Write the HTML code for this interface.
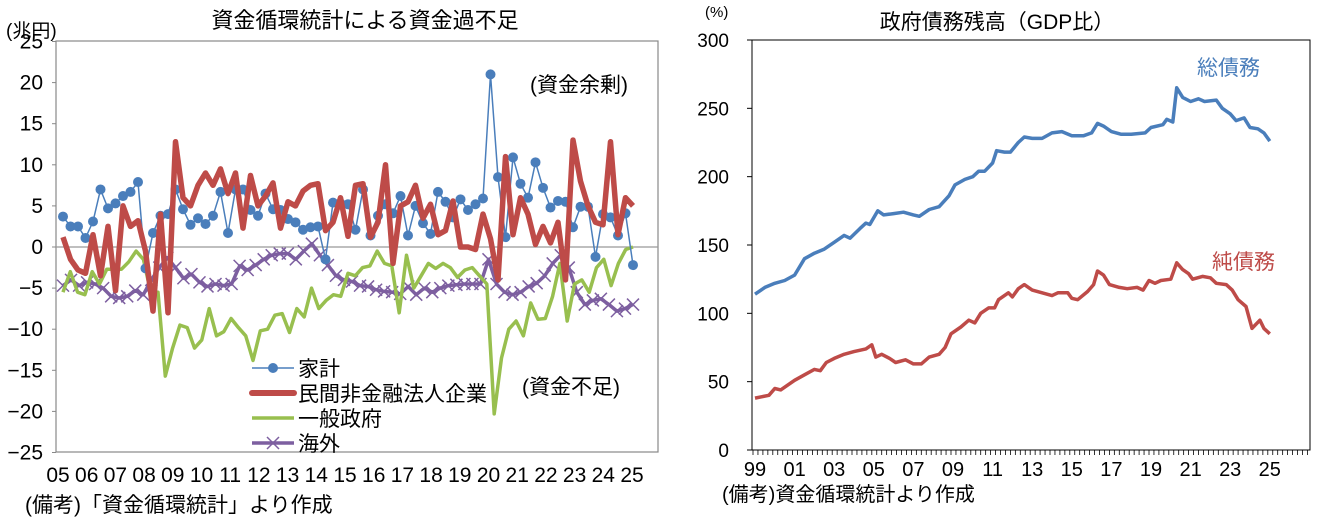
<!DOCTYPE html>
<html><head><meta charset="utf-8"><style>
html,body{margin:0;padding:0;background:#fff;}
svg{display:block;}
text{font-family:"Liberation Sans Narrow","Liberation Sans","Noto Sans CJK JP",sans-serif;fill:#000;}
.j{font-family:"Liberation Sans","Noto Sans CJK JP",sans-serif;}
</style></head><body>
<svg id="s" width="1321" height="523" viewBox="0 0 1321 523" xmlns="http://www.w3.org/2000/svg">
<rect width="1321" height="523" fill="#fff"/>
<!-- left chart -->
<text class="j" x="365" y="28" font-size="22" text-anchor="middle">資金循環統計による資金過不足</text>
<text class="j" x="6" y="37" font-size="19">(兆円)</text>
<rect x="56" y="41" width="602" height="411" fill="none" stroke="#888" stroke-width="1.2"/>
<line x1="56" y1="247" x2="658" y2="247" stroke="#999" stroke-width="1.2"/>
<g id="ly" font-size="21" text-anchor="end"></g>
<g id="lx" font-size="21" text-anchor="middle"></g>
<g id="lseries"></g>
<text class="j" x="530" y="92" font-size="21">(資金余剰)</text>
<text class="j" x="522" y="394" font-size="21">(資金不足)</text>
<g class="j">
<line x1="252" y1="368" x2="294" y2="368" stroke="#4a7ebb" stroke-width="1.5"/><circle cx="273" cy="368" r="5" fill="#4a7ebb"/>
<text class="j" x="298" y="376" font-size="21">家計</text>
<line x1="252" y1="393" x2="294" y2="393" stroke="#be4b48" stroke-width="6" stroke-linecap="round"/>
<text class="j" x="298" y="401" font-size="21">民間非金融法人企業</text>
<line x1="252" y1="418" x2="294" y2="418" stroke="#98bf4f" stroke-width="3.5"/>
<text class="j" x="298" y="426" font-size="21">一般政府</text>
<line x1="252" y1="443" x2="294" y2="443" stroke="#7d5fa0" stroke-width="3.5"/>
<path d="M267,437 l12,12 M279,437 l-12,12" stroke="#7d5fa0" stroke-width="1.5"/>
<text class="j" x="298" y="451" font-size="21">海外</text>
</g>
<text class="j" x="25" y="512" font-size="21">(備考)「資金循環統計」より作成</text>
<!-- right chart -->
<text class="j" x="997" y="29" font-size="21" text-anchor="middle">政府債務残高（GDP比）</text>
<text x="705" y="17" font-size="15">(%)</text>
<rect x="752" y="40" width="558" height="410" fill="none" stroke="#000" stroke-width="1"/>
<g id="ry" font-size="19" text-anchor="end"></g>
<g id="rx" font-size="20" text-anchor="middle"></g>
<g id="rt"></g>
<g id="rseries"></g>
<text class="j" x="1197" y="75" font-size="21" style="fill:#4a7ebb">総債務</text>
<text class="j" x="1212" y="269" font-size="21" style="fill:#be4b48">純債務</text>
<text class="j" x="722" y="501" font-size="20">(備考)資金循環統計より作成</text>
</svg>
<script>
var NS="http://www.w3.org/2000/svg";
function el(p,t,a,txt){var e=document.createElementNS(NS,t);for(var k in a)e.setAttribute(k,a[k]);if(txt!=null)e.textContent=txt;document.getElementById(p).appendChild(e);return e;}
function ly(v){return 247-v*8.22;}
for(var v=25;v>=-25;v-=5){el("ly","text",{x:43,y:ly(v)+7},(v<0?"−":"")+Math.abs(v));el("ly","line",{x1:52,x2:56,y1:ly(v),y2:ly(v),stroke:"#888"});}
for(var i=0;i<=20;i++){var yy=(5+i)%100;el("lx","text",{x:58+i*28.7,y:482},(yy<10?"0":"")+yy);}
var hh=[3.7,2.5,2.5,1.1,3.1,7.0,4.7,5.3,6.2,6.7,7.9,-2.6,1.7,3.8,4.0,7.0,4.6,2.7,3.5,2.8,3.8,6.7,1.7,7.0,7.0,4.5,3.8,6.5,4.6,4.5,3.4,3.0,2.1,2.4,2.5,-1.5,5.4,5.3,5.2,2.1,7.0,1.4,3.8,5.2,4.1,6.2,1.4,5.0,2.9,1.6,6.7,5.5,3.6,5.8,4.5,5.2,5.9,21.0,8.5,1.2,10.9,7.7,6.0,10.3,7.2,4.8,5.6,5.5,2.4,4.9,4.9,-1.2,4.0,3.6,1.4,4.1,-2.2];
var rd=[1.2,-1.5,-2.8,-3.2,1.5,-3.5,2.5,-5.3,5,2.5,3.2,-0.5,-7.8,4,-8,12.8,6,5,7.5,9,7.5,9.5,6.5,9,2.3,8.7,5,6.2,7.8,2.3,5.5,5,6.8,7.5,7.7,2,3,6,1.3,7.5,7.7,1.2,3,10,-2,5,5.5,7.5,3.5,5.2,1.5,2,5.6,0,0,-0.3,4,1,-4,11,1.5,6,4,0.3,2.5,0.5,3,-4,13,8,5,3,2.7,12.8,1.5,6,5];
var gr=[-5.5,-3,-5.5,-5.8,-3,-4.5,-2.7,-2.7,-2.7,-1.8,-0.5,-1.5,-5.5,-5.5,-15.7,-12.3,-9.5,-9.8,-12.3,-11.3,-7.5,-10.8,-10.3,-8.7,-9.8,-10.8,-13.8,-10.2,-10,-8.3,-8.1,-10.4,-7.5,-8.5,-5,-7.5,-6.5,-5.8,-6,-3.2,-3.5,-2.5,-2.3,-0.5,-2,-2.3,-8,-1,-5,-3.5,-2,-2.6,-2,-2.5,-3.7,-2.8,-2.5,-3.5,-4.5,-20.3,-13.5,-10,-9,-10.8,-6.8,-8.8,-8.7,-6,-2,-9,-4.5,-4,-5.5,-2.5,-1.5,-4.7,-2,-0.3,0];
var pu=[-4.7,-4,-4.7,-4.3,-4.5,-5,-6,-6.2,-6,-5.3,-5.8,-4,-2.5,-1.3,-2.5,-3.8,-3.3,-4.3,-4.8,-4.5,-4.7,-4.5,-2.3,-2.8,-2.2,-1.5,-1,-0.8,-0.8,-1.5,-0.5,0.4,-1,-2.2,-3.5,-4,-4.2,-4.7,-4.8,-5.2,-5.4,-5.5,-5.7,-4.8,-5.8,-5,-5.5,-5,-4.7,-4.6,-4.5,-4.5,-4.5,-1.5,-4.5,-5.5,-5.8,-5.5,-4.8,-4.4,-3.5,-2,-1,-2.5,-5.5,-7,-6.5,-6.3,-7,-7.8,-7.5,-7];
function pts(a){var r=[];for(var i=0;i<a.length;i++)r.push([63+i*(570/(a.length-1)),ly(a[i])]);return r;}
function path(p){return "M"+p.map(function(q){return q[0].toFixed(1)+","+q[1].toFixed(1)}).join(" L");}
var P=pts(pu);el("lseries","path",{d:path(P),fill:"none",stroke:"#7d5fa0","stroke-width":3.5,"stroke-linejoin":"round"});
P.forEach(function(q){el("lseries","path",{d:"M"+(q[0]-6)+","+(q[1]-6)+" l12,12 M"+(q[0]+6)+","+(q[1]-6)+" l-12,12",stroke:"#7d5fa0","stroke-width":1.5});});
el("lseries","path",{d:path(pts(gr)),fill:"none",stroke:"#98bf4f","stroke-width":3.5,"stroke-linejoin":"round"});
var H=pts(hh);el("lseries","path",{d:path(H),fill:"none",stroke:"#4a7ebb","stroke-width":1.5});
H.forEach(function(q){el("lseries","circle",{cx:q[0],cy:q[1],r:5,fill:"#4a7ebb"});});
el("lseries","path",{d:path(pts(rd)),fill:"none",stroke:"#be4b48","stroke-width":5.5,"stroke-linejoin":"round"});
function ry(v){return 450-v*1.3667;}
function rxf(y){return 755+(y-1999)*19.8;}
for(var v=0;v<=300;v+=50){el("ry","text",{x:729,y:ry(v)+7},v);el("ry","line",{x1:747,x2:752,y1:ry(v),y2:ry(v),stroke:"#000"});}
for(var y=1999;y<=2025;y+=2){var yy=y%100;el("rx","text",{x:rxf(y),y:476},(yy<10?"0":"")+yy);}
for(var x=753;x<1310;x+=4.95)el("rt","line",{x1:x,x2:x,y1:450,y2:455,stroke:"#000","stroke-width":0.8});
var tot=[[1999,114],[1999.5,119],[2000,122],[2000.5,124],[2001,128],[2001.5,140],[2002,144],[2002.5,147],[2003,152],[2003.5,157],[2003.8,155],[2004.3,162],[2004.6,166],[2004.8,165],[2005.2,175],[2005.5,172],[2006,173],[2006.5,174],[2007,172],[2007.3,171],[2007.8,176],[2008.3,178],[2008.8,186],[2009.1,194],[2009.6,198],[2010,200],[2010.3,204],[2010.6,204],[2011,210],[2011.2,219],[2011.6,218],[2011.9,218],[2012.3,225],[2012.6,229],[2013,228],[2013.5,228],[2014,232],[2014.5,233],[2015,230],[2015.6,230],[2016,232],[2016.3,239],[2016.6,237],[2017,233],[2017.5,231],[2018,231],[2018.7,232],[2019,236],[2019.6,238],[2019.8,242],[2020.1,240],[2020.3,265],[2020.6,258],[2021,255],[2021.4,257],[2021.7,255],[2022.3,256],[2022.6,250],[2023,246],[2023.3,241],[2023.7,243],[2024,236],[2024.4,235],[2024.7,232],[2025,226]];
var net=[[1999,38],[1999.7,40],[2000,45],[2000.3,44],[2001,51],[2001.5,55],[2002,59],[2002.3,58],[2002.6,64],[2003,67],[2003.5,70],[2004,72],[2004.6,74],[2004.9,77],[2005.1,68],[2005.4,70],[2005.8,67],[2006.1,64],[2006.6,66],[2007,63],[2007.4,63],[2007.8,68],[2008.3,70],[2008.6,75],[2008.9,85],[2009.4,90],[2009.8,95],[2010.1,93],[2010.4,100],[2010.8,104],[2011.1,104],[2011.3,110],[2011.8,115],[2012,112],[2012.3,118],[2012.6,121],[2013,117],[2013.5,115],[2014,113],[2014.3,115],[2014.8,115],[2015,111],[2015.3,110],[2015.8,116],[2016.1,121],[2016.3,131],[2016.6,128],[2016.9,121],[2017.4,119],[2017.8,118],[2018.3,119],[2018.6,117],[2018.9,124],[2019.2,122],[2019.5,124],[2020,125],[2020.3,137],[2020.6,132],[2020.9,129],[2021.1,125],[2021.6,127],[2022,126],[2022.3,122],[2022.8,121],[2023.1,117],[2023.4,110],[2023.8,105],[2024.1,89],[2024.5,95],[2024.7,89],[2025,85]];
function rp(a){return "M"+a.map(function(q){return rxf(q[0]).toFixed(1)+","+ry(q[1]).toFixed(1)}).join(" L");}
el("rseries","path",{d:rp(tot),fill:"none",stroke:"#4a7ebb","stroke-width":3.5,"stroke-linejoin":"round"});
el("rseries","path",{d:rp(net),fill:"none",stroke:"#be4b48","stroke-width":3.5,"stroke-linejoin":"round"});
</script>
</body></html>
